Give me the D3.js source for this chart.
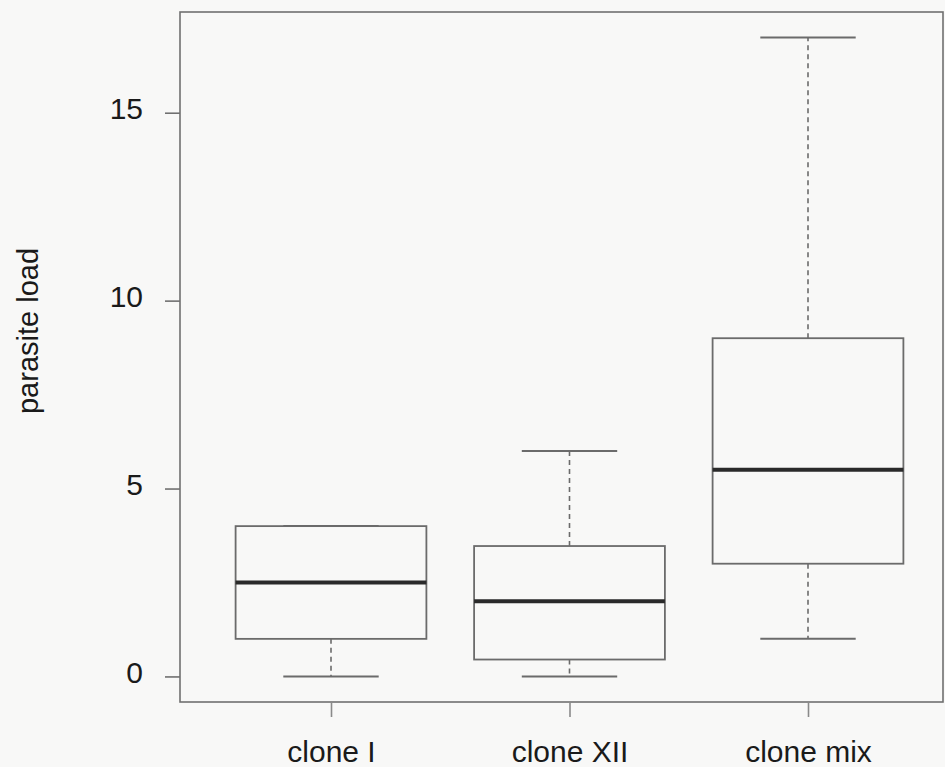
<!DOCTYPE html>
<html>
<head>
<meta charset="utf-8">
<script src="https://cdn.jsdelivr.net/npm/d3@7"></script>
<style>
  html, body { margin: 0; padding: 0; background: #f8f8f7; }
  svg { display: block; }
  text { font-family: "Liberation Sans", Arial, Helvetica, sans-serif; fill: #1a1a1a; }
</style>
</head>
<body>
<svg id="chart" width="945" height="767"></svg>
<script>
// Box-plot summaries of parasite load per clone
const groups     = ["clone I", "clone XII", "clone mix"];
const lowWhisker = [0, 0, 1];
const lowerQuart = [1, 0.45, 3];
const medians    = [2.5, 2, 5.5];
const upperQuart = [4, 3.47, 9];
const highWhisker= [4, 6, 17];
const yTicks     = [0, 5, 10, 15];
const yTitle     = "parasite load";

const svg = d3.select("#chart");
const W = 945, H = 767;
const frame = { left: 180, right: 943, top: 12, bottom: 702 };

// R-style extended ranges (4% padding)
const yMin = 0, yMax = d3.max(highWhisker);
const yPad = (yMax - yMin) * 0.04;
const y = d3.scaleLinear()
  .domain([yMin - yPad, yMax + yPad])
  .range([frame.bottom, frame.top]);

const x = d3.scaleLinear()
  .domain([1, 3])
  .range([331, 808]);
const unit = x(2) - x(1);
const boxW = 0.8 * unit;
const capW = 0.4 * unit;

const lineCol = "#6b6b6b";

// plot frame
svg.append("rect")
  .attr("x", frame.left).attr("y", frame.top)
  .attr("width", frame.right - frame.left)
  .attr("height", frame.bottom - frame.top)
  .attr("fill", "none")
  .attr("stroke", "#707070")
  .attr("stroke-width", 1.6);

// y axis ticks and labels
const yAxis = d3.axisLeft(y)
  .tickValues(yTicks)
  .tickSize(15)
  .tickPadding(22)
  .tickFormat(d3.format("d"));
const gy = svg.append("g")
  .attr("transform", `translate(${frame.left},0)`)
  .call(yAxis);
gy.select(".domain").remove();
gy.selectAll(".tick line").attr("stroke", "#707070").attr("stroke-width", 1.6);
gy.selectAll(".tick text")
  .attr("font-size", 30)
  .attr("fill", "#1a1a1a")
  .attr("dy", "0.2em");

// x axis ticks and labels
const xAxis = d3.axisBottom(x)
  .tickValues([1, 2, 3])
  .tickSize(15)
  .tickPadding(22)
  .tickFormat((d, i) => groups[i]);
const gx = svg.append("g")
  .attr("transform", `translate(0,${frame.bottom})`)
  .call(xAxis);
gx.select(".domain").remove();
gx.selectAll(".tick line").attr("stroke", "#8a8a8a").attr("stroke-width", 1.6);
gx.selectAll(".tick text")
  .attr("font-size", 30)
  .attr("fill", "#1a1a1a")
  .attr("dy", "0.75em");

// y axis title
svg.append("text")
  .attr("transform", `translate(38,${(frame.top + frame.bottom) / 2 - 26}) rotate(-90)`)
  .attr("text-anchor", "middle")
  .attr("font-size", 29)
  .text(yTitle);

// boxes
const rows = groups.map((g, i) => ({
  pos: i + 1,
  lo: lowWhisker[i], q1: lowerQuart[i], med: medians[i],
  q3: upperQuart[i], hi: highWhisker[i]
}));

const gb = svg.append("g").selectAll("g").data(rows).join("g");

// dashed whiskers
gb.append("line")
  .attr("x1", d => x(d.pos)).attr("x2", d => x(d.pos))
  .attr("y1", d => y(d.q3)).attr("y2", d => y(d.hi))
  .attr("stroke", lineCol).attr("stroke-width", 1.6)
  .attr("stroke-dasharray", "5,4");
gb.append("line")
  .attr("x1", d => x(d.pos)).attr("x2", d => x(d.pos))
  .attr("y1", d => y(d.q1)).attr("y2", d => y(d.lo))
  .attr("stroke", lineCol).attr("stroke-width", 1.6)
  .attr("stroke-dasharray", "5,4");

// whisker caps
gb.append("line")
  .attr("x1", d => x(d.pos) - capW / 2).attr("x2", d => x(d.pos) + capW / 2)
  .attr("y1", d => y(d.hi)).attr("y2", d => y(d.hi))
  .attr("stroke", lineCol).attr("stroke-width", 2);
gb.append("line")
  .attr("x1", d => x(d.pos) - capW / 2).attr("x2", d => x(d.pos) + capW / 2)
  .attr("y1", d => y(d.lo)).attr("y2", d => y(d.lo))
  .attr("stroke", lineCol).attr("stroke-width", 2);

// interquartile boxes
gb.append("rect")
  .attr("x", d => x(d.pos) - boxW / 2)
  .attr("width", boxW)
  .attr("y", d => y(d.q3))
  .attr("height", d => y(d.q1) - y(d.q3))
  .attr("fill", "none")
  .attr("stroke", lineCol).attr("stroke-width", 1.8);

// medians
gb.append("line")
  .attr("x1", d => x(d.pos) - boxW / 2).attr("x2", d => x(d.pos) + boxW / 2)
  .attr("y1", d => y(d.med)).attr("y2", d => y(d.med))
  .attr("stroke", "#2a2a2a").attr("stroke-width", 4);
</script>
</body>
</html>
